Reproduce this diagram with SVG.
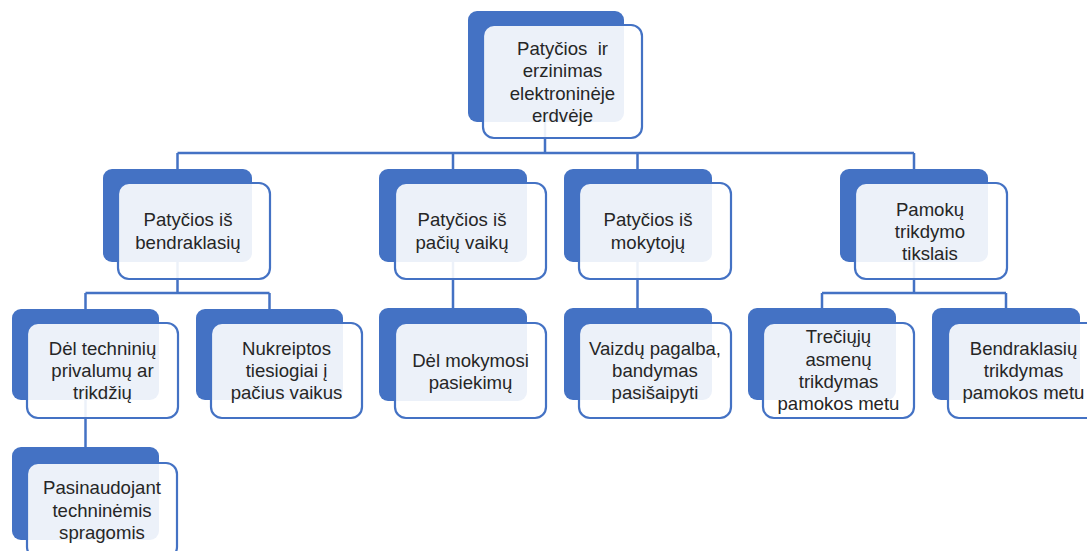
<svg xmlns="http://www.w3.org/2000/svg" width="1087" height="551" viewBox="0 0 1087 551">
<style>
.bk{fill:#4472c4;}
.fr{fill:#ffffff;fill-opacity:0.9;stroke:#4472c4;stroke-width:2.2;}
.t{font-family:"Liberation Sans",Arial,sans-serif;font-size:18.6px;fill:#262626;text-anchor:middle;}
.c{fill:none;stroke:#4472c4;stroke-width:2.5;}
</style>
<rect width="1087" height="551" fill="#ffffff"/>
<g id="connectors">
<path class="c" d="M545 122V153M177.5 153H914M177.5 153V169M453 153V169M637.5 153V169M914 153V169"/>
<path class="c" d="M177.5 262V293M85.5 293H269.5M85.5 293V309M269.5 293V309"/>
<path class="c" d="M453 262V308M637.5 262V308"/>
<path class="c" d="M914 262V293M822 293H1006M822 293V308M1006 293V308"/>
<path class="c" d="M85.5 400V447"/>
</g>
<g id="n1">
<rect class="bk" x="468" y="11" width="156" height="111" rx="9"/>
<rect class="fr" x="483" y="25" width="159" height="113" rx="11"/>
<text class="t" x="562.5" y="54.5" xml:space="preserve" style="white-space:pre">Patyčios  ir</text>
<text class="t" x="562.5" y="77">erzinimas</text>
<text class="t" x="562.5" y="99.5">elektroninėje</text>
<text class="t" x="562.5" y="122">erdvėje</text>
</g>
<g id="n2">
<rect class="bk" x="103" y="169" width="149" height="93" rx="9"/>
<rect class="fr" x="118" y="183" width="152" height="96" rx="11"/>
<text class="t" x="188" y="226">Patyčios iš</text>
<text class="t" x="188" y="248.5">bendraklasių</text>
</g>
<g id="n3">
<rect class="bk" x="379" y="169" width="148" height="93" rx="9"/>
<rect class="fr" x="395" y="183" width="151" height="96" rx="11"/>
<text class="t" x="462" y="226">Patyčios iš</text>
<text class="t" x="462" y="248.5">pačių vaikų</text>
</g>
<g id="n4">
<rect class="bk" x="564" y="169" width="148" height="93" rx="9"/>
<rect class="fr" x="579" y="183" width="152" height="96" rx="11"/>
<text class="t" x="648" y="226">Patyčios iš</text>
<text class="t" x="648" y="248.5">mokytojų</text>
</g>
<g id="n5">
<rect class="bk" x="840" y="169" width="148" height="93" rx="9"/>
<rect class="fr" x="855" y="183" width="152" height="96" rx="11"/>
<text class="t" x="930" y="215.5">Pamokų</text>
<text class="t" x="930" y="237.5">trikdymo</text>
<text class="t" x="930" y="259.5">tikslais</text>
</g>
<g id="n6">
<rect class="bk" x="12" y="309" width="147" height="91" rx="9"/>
<rect class="fr" x="27" y="323" width="151" height="95" rx="11"/>
<text class="t" x="102.5" y="355">Dėl techninių</text>
<text class="t" x="102.5" y="377">privalumų ar</text>
<text class="t" x="102.5" y="399">trikdžių</text>
</g>
<g id="n7">
<rect class="bk" x="196" y="309" width="147" height="91" rx="9"/>
<rect class="fr" x="211" y="323" width="151" height="95" rx="11"/>
<text class="t" x="286.5" y="355">Nukreiptos</text>
<text class="t" x="286.5" y="377">tiesiogiai į</text>
<text class="t" x="286.5" y="399">pačius vaikus</text>
</g>
<g id="n8">
<rect class="bk" x="379" y="308" width="148" height="93" rx="9"/>
<rect class="fr" x="395" y="323" width="151" height="95" rx="11"/>
<text class="t" x="470.5" y="366.5">Dėl mokymosi</text>
<text class="t" x="470.5" y="389">pasiekimų</text>
</g>
<g id="n9">
<rect class="bk" x="564" y="308" width="148" height="92" rx="9"/>
<rect class="fr" x="579" y="323" width="152" height="95" rx="11"/>
<text class="t" x="655" y="355">Vaizdų pagalba,</text>
<text class="t" x="655" y="377">bandymas</text>
<text class="t" x="655" y="399">pasišaipyti</text>
</g>
<g id="n10">
<rect class="bk" x="748" y="308" width="148" height="92" rx="9"/>
<rect class="fr" x="763" y="323" width="151" height="95" rx="11"/>
<text class="t" x="838.5" y="343">Trečiųjų</text>
<text class="t" x="838.5" y="365.5">asmenų</text>
<text class="t" x="838.5" y="388">trikdymas</text>
<text class="t" x="838.5" y="410">pamokos metu</text>
</g>
<g id="n11">
<rect class="bk" x="932" y="308" width="148" height="92" rx="9"/>
<rect class="fr" x="948" y="323" width="151" height="95" rx="11"/>
<text class="t" x="1023.5" y="355">Bendraklasių</text>
<text class="t" x="1023.5" y="377">trikdymas</text>
<text class="t" x="1023.5" y="399">pamokos metu</text>
</g>
<g id="n12">
<rect class="bk" x="12" y="447" width="147" height="93" rx="9"/>
<rect class="fr" x="27" y="463" width="150" height="95" rx="11"/>
<text class="t" x="102" y="494">Pasinaudojant</text>
<text class="t" x="102" y="516.5">techninėmis</text>
<text class="t" x="102" y="539">spragomis</text>
</g>
</svg>
